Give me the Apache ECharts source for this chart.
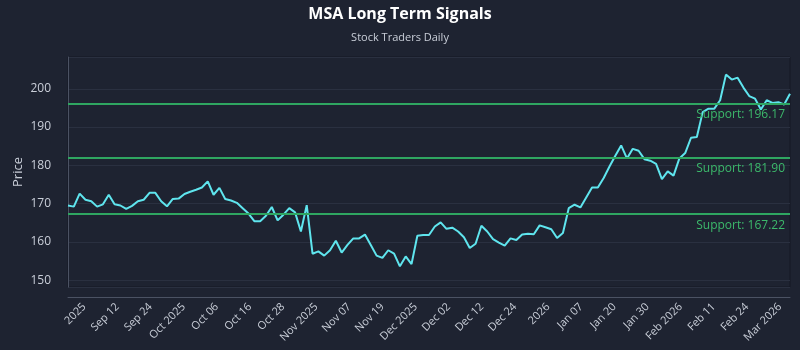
<!DOCTYPE html>
<html>
<head>
<meta charset="utf-8">
<script src="https://cdn.jsdelivr.net/npm/echarts@6/dist/echarts.min.js"></script>
<style>
  html, body { margin: 0; padding: 0; background: #1e2331; }
  #chart { width: 800px; height: 350px; }
</style>
</head>
<body>
<div id="chart"></div>
<script>
// closing prices, one per session, oldest first
const prices = [
  169.5, 169.2, 172.6, 171.0, 170.6, 169.2, 169.8, 172.3, 169.8, 169.5,
  168.6, 169.4, 170.6, 171.0, 172.8, 172.8, 170.6, 169.3, 171.2, 171.3,
  172.5, 173.1, 173.6, 174.2, 175.8, 172.3, 174.1, 171.2, 170.8, 170.2,
  168.8, 167.4, 165.4, 165.4, 166.8, 169.1, 165.6, 167.1, 168.8, 167.7,
  162.7, 169.6, 156.9, 157.5, 156.4, 157.8, 160.3, 157.2, 159.2, 160.9,
  160.9, 161.9, 159.2, 156.4, 155.8, 157.8, 156.9, 153.6, 156.2, 154.2,
  161.6, 161.8, 161.8, 164.0, 165.1, 163.4, 163.7, 162.7, 161.2, 158.4,
  159.5, 164.2, 162.7, 160.7, 159.8, 159.0, 160.9, 160.5, 161.9, 162.1,
  162.0, 164.3, 163.8, 163.3, 161.0, 162.3, 168.8, 169.7, 169.0, 171.6,
  174.2, 174.2, 176.7, 179.7, 182.5, 185.2, 181.8, 184.3, 183.8, 181.6,
  181.2, 180.4, 176.4, 178.4, 177.3, 181.8, 183.2, 187.2, 187.4, 193.9,
  194.8, 194.8, 197.0, 203.7, 202.4, 202.9, 200.3, 198.1, 197.4, 194.6,
  197.0, 196.3, 196.5, 195.9, 198.7
];

const tickLabels = [
  "2025", "Sep 12", "Sep 24", "Oct 2025", "Oct 06", "Oct 16", "Oct 28",
  "Nov 2025", "Nov 07", "Nov 19", "Dec 2025", "Dec 02", "Dec 12", "Dec 24",
  "2026", "Jan 07", "Jan 20", "Jan 30", "Feb 2026", "Feb 11", "Feb 24", "Mar 2026"
];

const supportLevels = [196.17, 181.90, 167.22];

// label ticks sit between sessions, evenly spaced
const FIRST_TICK = 2.8;
const TICK_STEP = 5.69;
const tickPositions = tickLabels.map((_, i) => +(FIRST_TICK + i * TICK_STEP).toFixed(3));

const FONT = "Open Sans";
const textColor = "#c9ced8";
const green = "#2fa661";

const chart = echarts.init(document.getElementById("chart"), null, { renderer: "canvas" });

chart.setOption({
  backgroundColor: "#1e2331",
  animation: false,
  title: {
    text: "MSA Long Term Signals",
    subtext: "Stock Traders Daily",
    left: "center",
    top: 1,
    itemGap: 10,
    textStyle: { color: "#ffffff", fontSize: 16, fontWeight: "bold", fontFamily: FONT },
    subtextStyle: { color: textColor, fontSize: 11, fontFamily: FONT },
  },
  grid: {
    left: 68, right: 10, top: 57, bottom: 63,
    show: true, borderColor: "#141824", borderWidth: 1,
  },
  xAxis: {
    type: "value",
    min: 0,
    max: prices.length - 1,
    offset: 10,
    axisLine: { show: true, lineStyle: { color: "#4b5263" } },
    axisTick: { show: false },
    splitLine: { show: false },
    axisLabel: {
      customValues: tickPositions,
      formatter: (value) => tickLabels[tickPositions.indexOf(value)] ?? "",
      rotate: 45,
      margin: 8,
      color: textColor,
      fontSize: 11,
      fontFamily: FONT,
    },
  },
  yAxis: {
    type: "value",
    min: 148.2,
    max: 208.3,
    splitNumber: 5,
    offset: 11,
    name: "Price",
    nameLocation: "middle",
    nameGap: 32,
    nameMoveOverlap: false,
    nameTextStyle: { color: textColor, fontSize: 13, fontFamily: FONT },
    axisLine: { show: true, lineStyle: { color: "#4b5263" } },
    axisTick: { show: false },
    splitLine: { lineStyle: { color: "#2a3040", width: 1 } },
    axisLabel: {
      showMinLabel: false,
      showMaxLabel: false,
      margin: 6,
      color: textColor,
      fontSize: 12,
      fontFamily: FONT,
    },
  },
  series: [
    {
      type: "line",
      data: prices.map((p, i) => [i, p]),
      showSymbol: false,
      lineStyle: { color: "#5fe5ee", width: 2 },
      itemStyle: { color: "#5fe5ee" },
      markLine: {
        silent: true,
        symbol: "none",
        lineStyle: { color: green, type: "solid", width: 2 },
        label: {
          position: "insideEndBottom",
          color: "#3cb96b",
          fontSize: 12,
          fontFamily: FONT,
        },
        data: supportLevels.map((v) => ({
          yAxis: v,
          label: { formatter: "Support: " + v.toFixed(2) },
        })),
      },
    },
  ],
});
</script>
</body>
</html>
